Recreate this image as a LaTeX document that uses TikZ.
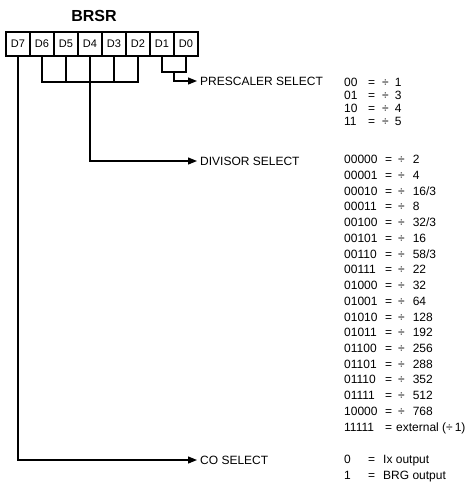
\documentclass[tikz,border=0pt]{standalone}
\usepackage{fontspec}
\setmainfont{Liberation Sans}
\usetikzlibrary{arrows.meta,positioning}

\begin{document}
\begin{tikzpicture}[x=1pt, y=-1pt,
    bit/.style = {draw, line width=1.2pt, minimum width=24pt, minimum height=24pt, inner sep=0pt, outer sep=0pt, font=\fontsize{11}{13}\selectfont},
    wire/.style = {line width=1.2pt},
    feed/.style = {wire, -{Triangle[length=9pt,width=7pt]}, shorten >=3pt},
    lbl/.style = {anchor=west, inner sep=0pt, text height=8.6pt, text depth=0pt, font=\fontsize{12}{14}\selectfont},
    val/.style = {lbl}]

    \useasboundingbox (0,0) rectangle (469,483);

    \node[font=\bfseries\fontsize{16}{18}\selectfont] (title) at (94,15.5) {BRSR};

    % register bits
    \node[bit] (b7) at (18,44) {D7};
    \node[bit, right=0pt of b7] (b6) {D6};
    \node[bit, right=0pt of b6] (b5) {D5};
    \node[bit, right=0pt of b5] (b4) {D4};
    \node[bit, right=0pt of b4] (b3) {D3};
    \node[bit, right=0pt of b3] (b2) {D2};
    \node[bit, right=0pt of b2] (b1) {D1};
    \node[bit, right=0pt of b1] (b0) {D0};

    \node[lbl] (pre) at (200,81) {PRESCALER SELECT};
    \node[lbl] (div) at (200,161) {DIVISOR SELECT};
    \node[lbl] (cosel) at (200,460) {CO SELECT};

    % prescaler bits
    \coordinate[below=16pt of b1.south east] (pmid);
    \draw[wire] (b1.south) |- (pmid) -| (b0.south);
    \draw[feed] (pmid) |- (pre.west);

    % divisor bits
    \coordinate[below=26pt of b4.south] (dmid);
    \draw[wire] (b6.south) |- (dmid) -| (b2.south);
    \draw[wire] (b5.south) -- (b5.south |- dmid);
    \draw[wire] (b3.south) -- (b3.south |- dmid);
    \draw[feed] (b4.south) |- (div.west);

    % clock output bit
    \draw[feed] (b7.south) |- (cosel.west);

    % tables
    \foreach \code/\ratio [count=\k from 0] in {00/1, 01/3, 10/4, 11/5}
        \node[val] (pv\k) at (344,81.7+13.2*\k) {\makebox[24pt][l]{\code}=\hspace{7pt}÷\hspace{6pt}\ratio};

    \foreach \code/\ratio [count=\k from 0] in {00000/2, 00001/4, 00010/16{/}3, 00011/8, 00100/32{/}3, 00101/16, 00110/58{/}3, 00111/22, 01000/32, 01001/64, 01010/128, 01011/192, 01100/256, 01101/288, 01110/352, 01111/512, 10000/768}
        \node[val] (dv\k) at (344,159.5+15.72*\k) {\makebox[41pt][l]{\code}=\hspace{6pt}÷\hspace{8pt}\ratio};
    \node[val] (dv17) at (344,159.5+15.72*17) {\makebox[41pt][l]{11111}=\hspace{4pt}external (÷\,1)};

    \node[val] (cv0) at (344,459.3) {\makebox[24pt][l]{0}=\hspace{8pt}Ix output};
    \node[val] (cv1) at (344,475) {\makebox[24pt][l]{1}=\hspace{8pt}BRG output};

\end{tikzpicture}
\end{document}
